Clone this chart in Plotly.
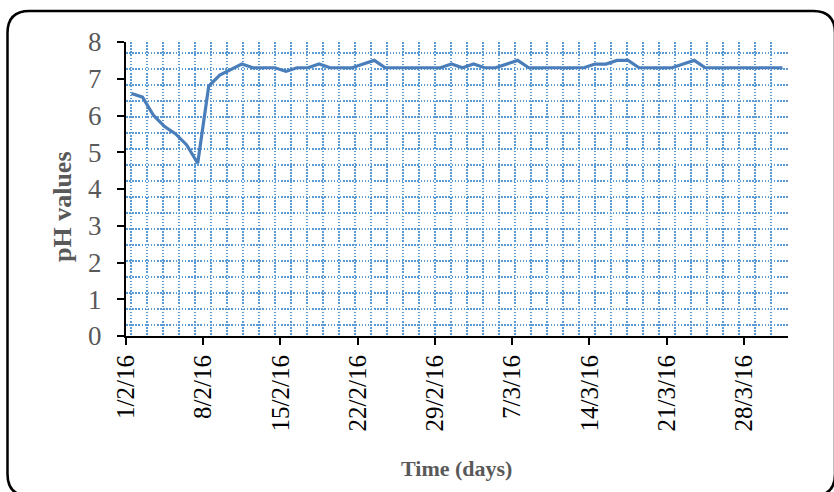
import pandas as pd
import plotly.graph_objects as go

# Daily pH readings, 1 Feb 2016 to 31 Mar 2016
days = pd.date_range("2016-02-01", "2016-03-31", freq="D")
ph_values = [
    6.6, 6.5, 6.0, 5.7, 5.5, 5.2, 4.7, 6.8, 7.1, 7.25,
    7.4, 7.3, 7.3, 7.3, 7.2, 7.3, 7.3, 7.4, 7.3, 7.3,
    7.3, 7.4, 7.5, 7.3, 7.3, 7.3, 7.3, 7.3, 7.3, 7.4,
    7.3, 7.4, 7.3, 7.3, 7.4, 7.5, 7.3, 7.3, 7.3, 7.3,
    7.3, 7.3, 7.4, 7.4, 7.5, 7.5, 7.3, 7.3, 7.3, 7.3,
    7.4, 7.5, 7.3, 7.3, 7.3, 7.3, 7.3, 7.3, 7.3, 7.3,
]
tick_dates = pd.date_range("2016-02-01", periods=9, freq="7D")
tick_labels = ["1/2/16", "8/2/16", "15/2/16", "22/2/16", "29/2/16",
               "7/3/16", "14/3/16", "21/3/16", "28/3/16"]
y_ticks = list(range(0, 9))

W, H = 834, 492
L, R, T, B = 126, 46, 42, 156
PW, PH = W - L - R, H - T - B

SERIF = "Liberation Serif"
GRID_BLUE = "#5B9BD5"
LINE_BLUE = "#4A7EBB"
GREY = "#595959"


def px_x(px):
    """Figure pixel column -> paper x."""
    return (px - L) / PW


def px_y(py):
    """Figure pixel row -> paper y."""
    return (H - B - py) / PH


fig = go.Figure()

# each reading sits in the middle of its day slot on the date axis
fig.add_trace(go.Scatter(
    x=days + pd.Timedelta(hours=12), y=ph_values,
    mode="lines", line=dict(color=LINE_BLUE, width=3.2),
    showlegend=False, hoverinfo="x+y",
))
# carrier for the dotted background pattern axes
fig.add_trace(go.Scatter(x=[], y=[], xaxis="x2", yaxis="y2",
                         showlegend=False, hoverinfo="skip"))

fig.update_layout(
    width=W, height=H,
    margin=dict(l=L, r=R, t=T, b=B, pad=0),
    paper_bgcolor="white", plot_bgcolor="white",
    xaxis=dict(
        type="date",
        range=[days[0], days[-1] + pd.Timedelta(days=1)],
        tickmode="array", tickvals=tick_dates, ticktext=tick_labels,
        tickangle=-90,
        tickfont=dict(family=SERIF, size=25, color="black"),
        ticks="outside", ticklen=7, tickwidth=2, tickcolor="black",
        ticklabelstandoff=0,
        showline=True, linecolor="black", linewidth=2,
        showgrid=False, zeroline=False,
    ),
    yaxis=dict(
        range=[0, 8], tickmode="array", tickvals=y_ticks,
        tickfont=dict(family=SERIF, size=27, color=GREY),
        ticks="outside", ticklen=7, tickwidth=2, tickcolor="black",
        ticklabelstandoff=10,
        showline=True, linecolor="black", linewidth=2,
        showgrid=False, zeroline=False,
    ),
    # pixel-unit axes that only draw the dotted fill pattern
    xaxis2=dict(
        overlaying="x", anchor="y2", range=[0, PW],
        tick0=5, dtick=16, showgrid=True, gridcolor=GRID_BLUE,
        gridwidth=1.5, griddash="1.5px,1.6px",
        showticklabels=False, ticks="", showline=False, zeroline=False,
    ),
    yaxis2=dict(
        overlaying="y", anchor="x2", range=[0, PH],
        tick0=11, dtick=16, showgrid=True, gridcolor=GRID_BLUE,
        gridwidth=1.5, griddash="1.5px,1.6px",
        showticklabels=False, ticks="", showline=False, zeroline=False,
    ),
)

# axis titles
fig.add_annotation(
    text="<b>Time (days)</b>", xref="paper", yref="paper",
    x=px_x(456), y=px_y(468), xanchor="center", yanchor="middle",
    showarrow=False, font=dict(family=SERIF, size=22, color=GREY),
)
fig.add_annotation(
    text="<b>pH values</b>", xref="paper", yref="paper",
    x=px_x(62), y=px_y(207), xanchor="center", yanchor="middle",
    textangle=-90, showarrow=False,
    font=dict(family=SERIF, size=26, color=GREY),
)

# rounded outer frame of the chart
x0, x1, y0, y1, rad = 7.5, 835.0, 11.0, 496.0, 22.0
frame = (
    f"M {px_x(x0)},{px_y(y0 + rad)} "
    f"Q {px_x(x0)},{px_y(y0)} {px_x(x0 + rad)},{px_y(y0)} "
    f"L {px_x(x1 - rad)},{px_y(y0)} "
    f"Q {px_x(x1)},{px_y(y0)} {px_x(x1)},{px_y(y0 + rad)} "
    f"L {px_x(x1)},{px_y(y1 - rad)} "
    f"Q {px_x(x1)},{px_y(y1)} {px_x(x1 - rad)},{px_y(y1)} "
    f"L {px_x(x0 + rad)},{px_y(y1)} "
    f"Q {px_x(x0)},{px_y(y1)} {px_x(x0)},{px_y(y1 - rad)} Z"
)
fig.add_shape(type="path", path=frame, xref="paper", yref="paper",
              line=dict(color="black", width=2.5), layer="above")

fig.write_html("out.html")
